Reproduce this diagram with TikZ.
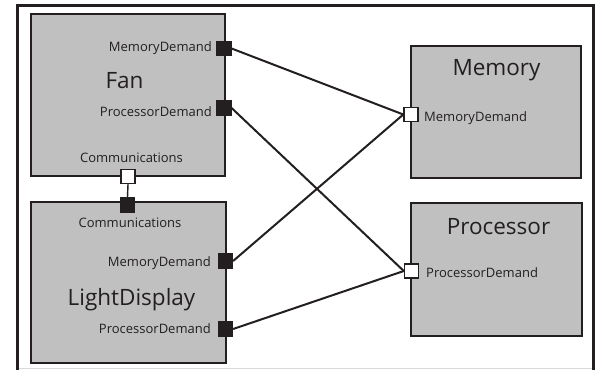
\documentclass[tikz,border=0pt]{standalone}
\usepackage{fontspec}
\setmainfont{Open Sans}
\usepackage{tikz}
\usetikzlibrary{positioning,calc}
\definecolor{ink}{RGB}{35,31,32}
\definecolor{boxgray}{RGB}{192,192,192}
\tikzset{
	block/.style={draw=ink,fill=boxgray,line width=1.8pt,rectangle,inner sep=0pt},
	outport/.style={draw=ink,fill=ink,line width=1.2pt,rectangle,minimum size=14pt,inner sep=0pt},
	inport/.style={draw=ink,fill=white,line width=1.4pt,rectangle,minimum size=14pt,inner sep=0pt},
	lbl/.style={text=ink,font=\fontsize{13}{15}\selectfont,inner sep=0pt},
	ttl/.style={text=ink,font=\fontsize{22.5}{26}\selectfont,inner sep=0pt},
	link/.style={draw=ink,line width=2pt}
}

\begin{document}
\begin{tikzpicture}[x=1pt,y=-1pt]
	\useasboundingbox (0,0) rectangle (595,370);
	% cadre
	\draw[black!15,line width=1pt] (17,368) -- (594,368);
	\draw[ink,line width=3pt] (17.5,370) -- (17.5,5.5) -- (593.5,5.5) -- (593.5,370);
	
	%Blocs
	\node[block,minimum width=194pt,minimum height=162pt] (fan) at (128,95) {};
	\node[block,minimum width=195pt,minimum height=161pt] (light) at (128.5,282.5) {};
	\node[block,minimum width=170pt,minimum height=132pt] (memory) at (496,112) {};
	\node[block,minimum width=171pt,minimum height=133pt] (processor) at (496.5,269.5) {};
	
	%Titres
	\node[ttl,anchor=base] (fanT) at (124.5,88) {Fan};
	\node[ttl,anchor=base] (lightT) at (131.5,305) {LightDisplay};
	\node[ttl,anchor=base] (memoryT) at (496.5,75) {Memory};
	\node[ttl,anchor=base] (processorT) at (498.5,234) {Processor};
	
	%Ports
	\node[outport] (fanMem) at (224,48.5) {};
	\node[outport] (fanProc) at (224,108) {};
	\node[inport] (fanCom) at (128,176.5) {};
	\node[outport] (lightCom) at (127.5,205) {};
	\node[outport] (lightMem) at (225.5,261) {};
	\node[outport] (lightProc) at (225.5,329) {};
	\node[inport] (memoryMem) at (411,114.5) {};
	\node[inport] (processorProc) at (411.5,271) {};
	
	%Etiquettes
	\node[lbl,anchor=base east] (fanMemL) at (212,51) {MemoryDemand};
	\node[lbl,anchor=base east] (fanProcL) at (212,116) {ProcessorDemand};
	\node[lbl,anchor=base] (fanComL) at (131.5,162) {Communications};
	\node[lbl,anchor=base] (lightComL) at (130,227) {Communications};
	\node[lbl,anchor=base east] (lightMemL) at (211,266) {MemoryDemand};
	\node[lbl,anchor=base east] (lightProcL) at (211,333) {ProcessorDemand};
	\node[lbl,anchor=base west] (memoryMemL) at (424,121) {MemoryDemand};
	\node[lbl,anchor=base west] (processorProcL) at (426,277) {ProcessorDemand};
	
	%Liens
	\draw[link] (fanMem.east) -- (memoryMem.west);
	\draw[link] (lightMem.east) -- (memoryMem.west);
	\draw[link] (fanProc.east) -- (processorProc.west);
	\draw[link] (lightProc.east) -- (processorProc.west);
	\draw[ink,line width=1.4pt] (fanCom.south) -- (lightCom.north);
\end{tikzpicture}
\end{document}
